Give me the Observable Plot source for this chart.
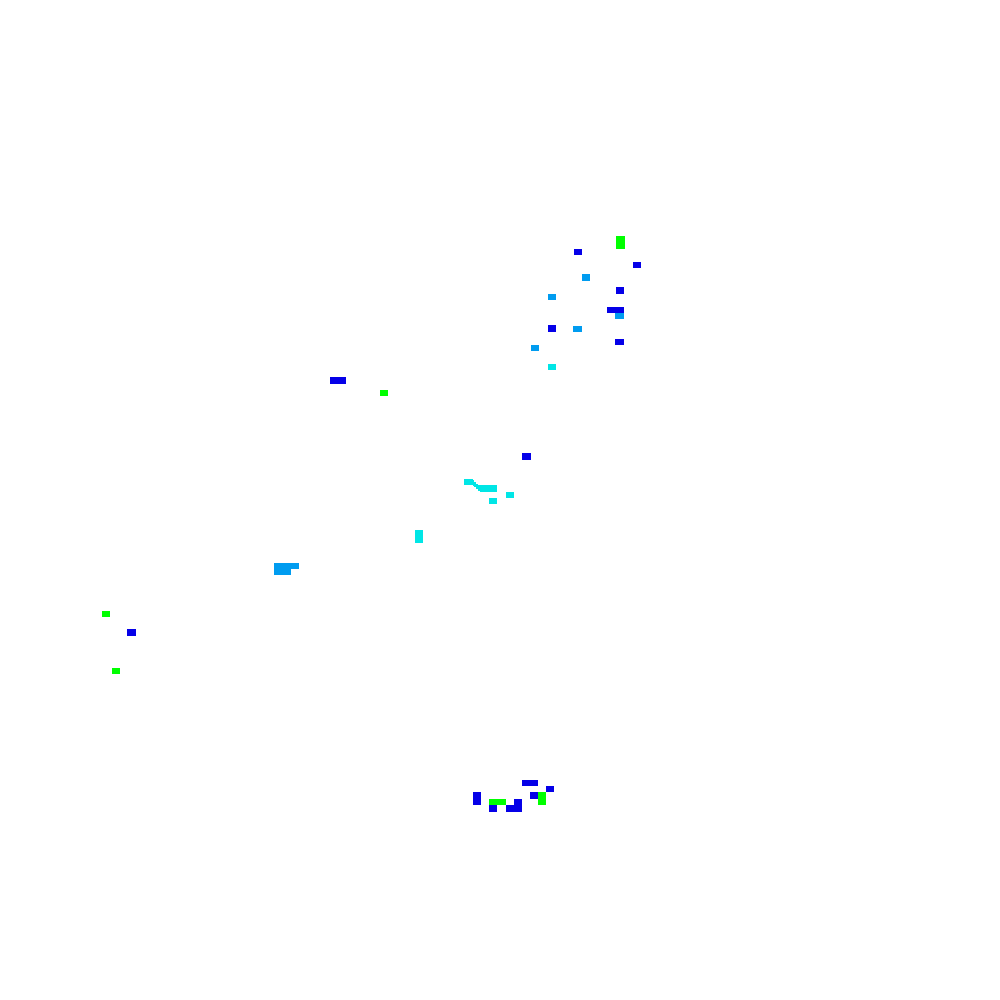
<!DOCTYPE html>
<html>
<head>
<meta charset="utf-8">
<script src="https://cdn.jsdelivr.net/npm/d3@7"></script>
<script src="https://cdn.jsdelivr.net/npm/@observablehq/plot@0.6"></script>
<style>
  html, body { margin: 0; padding: 0; background: #fff; }
  svg { display: block; }
</style>
</head>
<body>
<div id="chart"></div>
<script>
// Cells (data space 0..1000 across, 0..1000 down)
const x1s = [616,574,633,582,616,548,607,615,548,573,615,531,548, 330,380,522,464,473,474,476,478,480,506,489,415,274,291, 102,127,112, 522,546,473,489,489,506,514,530,538];
const x2s = [625,582,641,590,624,556,624,624,556,582,624,539,556, 346,388,531,473,474,476,478,480,497,514,497,423,291,299, 110,136,120, 538,554,481,506,497,522,522,538,546];
const y1s = [236,249,262,274,287,294,307,313,325,326,339,345,364, 377,390,453,479,480,482,484,485,485,492,498,530,563,563, 611,629,668, 780,786,792,799,805,805,799,792,792];
const y2s = [249,255,268,281,294,300,313,319,332,332,345,351,370, 384,396,460,485,486,487,489,491,492,498,504,543,575,569, 617,636,674, 786,792,805,805,812,812,805,799,805];
const cats = ["g","b","b","l","b","l","b","l","b","l","b","l","c", "b","g","b","c","c","c","c","c","c","c","c","c","l","l", "g","b","g", "b","b","b","g","b","b","b","b","g"];

const categories = ["b","l","c","g"];
const colors = ["#0500e8","#009cf0","#00e6e6","#00ff00"];

const cells = x1s.map((x1, i) => ({x1, x2: x2s[i], y1: y1s[i], y2: y2s[i], cat: cats[i]}));

const chart = Plot.plot({
  width: 1000,
  height: 1000,
  margin: 0,
  x: {domain: [0, 1000], range: [0, 1000], axis: null},
  y: {domain: [0, 1000], range: [0, 1000], axis: null},
  color: {type: "ordinal", domain: categories, range: colors},
  style: {background: "#fff"},
  marks: [
    Plot.rect(cells, {x1: "x1", x2: "x2", y1: "y1", y2: "y2", fill: "cat", inset: 0})
  ]
});
document.getElementById("chart").appendChild(chart);
</script>
</body>
</html>
